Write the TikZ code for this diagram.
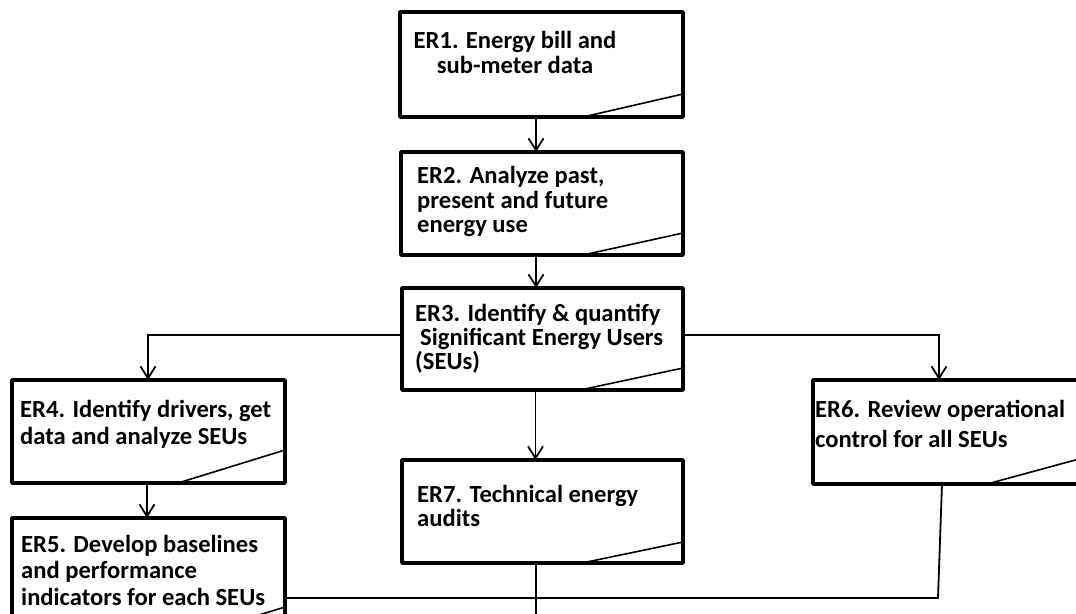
\documentclass[tikz,border=0pt]{standalone}
\usepackage{fontspec}
\setmainfont{Carlito}
\usetikzlibrary{arrows.meta}
\begin{document}
\begin{tikzpicture}[x=1pt,y=-1pt,
  box/.style={draw, line width=3.8pt, line join=round, inner sep=0pt, outer sep=0pt},
  diag/.style={line width=1.6pt},
  conn/.style={line width=1.8pt},
  arr/.style={conn, -{Straight Barb[length=12pt,width=15pt,line width=1.8pt]}},
  lbl/.style={font=\bfseries\fontsize{24.6}{28}\selectfont, inner sep=0pt, anchor=base west}]
\clip (0,0) rectangle (1076,613);
\fill[white] (0,0) rectangle (1076,613);
% boxes
\node[box, minimum width=283pt, minimum height=105pt] (er1) at (541.5,64.5) {};
\node[box, minimum width=282pt, minimum height=103pt] (er2) at (542,203.5) {};
\node[box, minimum width=281pt, minimum height=102pt] (er3) at (542.5,339) {};
\node[box, minimum width=281pt, minimum height=103pt] (er7) at (542.5,511.5) {};
\node[box, minimum width=273pt, minimum height=103pt] (er4) at (148.5,431.5) {};
\node[box, minimum width=273pt, minimum height=122pt] (er5) at (148.5,579) {};
\node[box, minimum width=277pt, minimum height=104pt] (er6) at (951.5,432) {};
% corner diagonals
\draw[diag] ([yshift=23pt]er1.south east) -- ([xshift=-100pt]er1.south east);
\draw[diag] ([yshift=22pt]er2.south east) -- ([xshift=-100pt]er2.south east);
\draw[diag] ([yshift=22pt]er3.south east) -- ([xshift=-103pt]er3.south east);
\draw[diag] ([yshift=21pt]er7.south east) -- ([xshift=-101pt]er7.south east);
\draw[diag] ([yshift=33pt]er4.south east) -- ([xshift=-107pt]er4.south east);
\draw[diag] ([yshift=33pt]er5.south east) -- ([xshift=-107pt]er5.south east);
\draw[diag] ([yshift=28pt]er6.south east) -- ([xshift=-103pt]er6.south east);
% texts
\node[lbl, anchor=base] (t1a) at (515,48) {ER1. Energy bill and};
\node[lbl, anchor=base] (t1b) at (515,73) {sub-meter data};
\node[lbl] (t2a) at (417,183) {ER2. Analyze past,};
\node[lbl] (t2b) at (417,208) {present and future};
\node[lbl] (t2c) at (417,232) {energy use};
\node[lbl] (t3a) at (415,321) {ER3. Identify \& quantify};
\node[lbl] (t3b) at (420,345) {Significant Energy Users};
\node[lbl] (t3c) at (415,369) {(SEUs)};
\node[lbl] (t7a) at (417,502) {ER7. Technical energy};
\node[lbl] (t7b) at (417,526) {audits};
\node[lbl] (t4a) at (20,417) {ER4. Identify drivers, get};
\node[lbl] (t4b) at (20,444) {data and analyze SEUs};
\node[lbl] (t5a) at (21,552) {ER5. Develop baselines};
\node[lbl] (t5b) at (21,578) {and performance};
\node[lbl] (t5c) at (21,605) {indicators for each SEUs};
\node[lbl] (t6a) at (815,417) {ER6. Review operational};
\node[lbl] (t6b) at (815,447) {control for all SEUs};
% connectors
\coordinate (bend6) at (938,598);
\coordinate (bot7) at (536,630);
\draw[arr] ([xshift=-5.5pt]er1.south) -- ([xshift=-6pt]er2.north);
\draw[arr] ([xshift=-6pt]er2.south) -- ([xshift=-6.5pt]er3.north);
\draw[arr] ([yshift=4pt]er3.west) -| ([xshift=-0.5pt]er4.north);
\draw[arr] ([yshift=4pt]er3.east) -| ([xshift=-12.5pt]er6.north);
\draw[arr] ([xshift=-7pt]er3.south) -- ([xshift=-7pt]er7.north);
\draw[arr] ([xshift=-1.5pt]er4.south) -- ([xshift=-1.5pt]er5.north);
\draw[conn] ([xshift=-6.5pt]er7.south) -- (bot7);
\draw[conn] ([xshift=-9.5pt]er6.south) -- (bend6) -- (bend6 -| er5.east);
\end{tikzpicture}
\end{document}
